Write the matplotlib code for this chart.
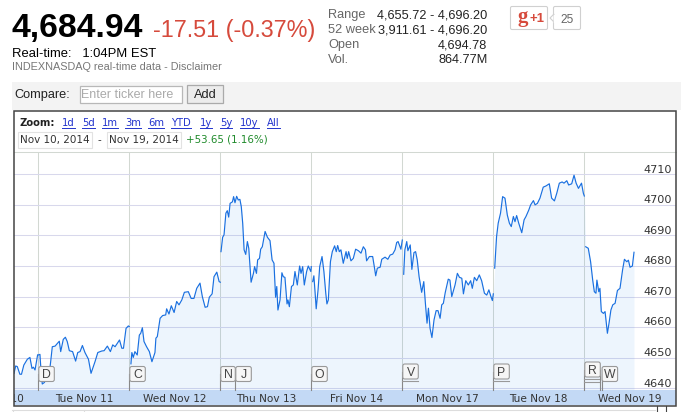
import matplotlib
matplotlib.use('Agg')
import matplotlib.pyplot as plt
from matplotlib.patches import Rectangle, FancyBboxPatch, Polygon
import numpy as np

# minutes since session open, index level
nov10_t = [286, 293, 300, 311, 318, 328, 343, 354, 363, 369, 376, 387]
nov10_v = [4644.9, 4647.3, 4647.1, 4644.6, 4644.6, 4647.6, 4649.5, 4650.1, 4646.5, 4646.9, 4646.0, 4650.9]

nov11_t = [0, 7, 11, 17, 26, 47, 53, 60, 72, 82, 90, 96, 107, 116, 124, 133, 147, 160, 169, 179, 189, 200, 215,
           226, 243, 255, 272, 282, 296, 309, 319, 329, 348, 358, 365, 376, 386, 390]
nov11_v = [4650.9, 4651.1, 4646.5, 4641.4, 4641.9, 4644.9, 4648.7, 4653.6, 4653.8, 4654.7, 4655.4, 4652.0, 4656.0,
           4656.7, 4655.3, 4652.3, 4652.0, 4648.9, 4651.7, 4652.0, 4654.0, 4651.7, 4649.5, 4644.9, 4648.7, 4651.7,
           4652.2, 4652.3, 4653.8, 4652.0, 4654.2, 4653.6, 4655.8, 4653.1, 4653.1, 4659.6, 4660.4, 4660.2]

nov12_t = [7, 11, 17, 24, 34, 43, 49, 56, 63, 74, 86, 97, 110, 114, 120, 132, 143, 156, 160, 170, 180, 192, 203,
           213, 225, 236, 253, 265, 277, 289, 303, 313, 325, 335, 343, 355, 363, 375, 385, 390]
nov12_v = [4648.0, 4651.7, 4650.1, 4652.0, 4650.9, 4657.4, 4658.0, 4659.8, 4655.3, 4653.6, 4652.0, 4648.7, 4651.7,
           4656.4, 4656.9, 4662.9, 4663.8, 4664.0, 4666.0, 4664.3, 4667.0, 4664.8, 4668.4, 4667.3, 4668.9, 4671.4,
           4671.6, 4669.4, 4669.4, 4672.7, 4674.4, 4670.0, 4666.5, 4666.7, 4669.8, 4670.9, 4676.5, 4678.0, 4674.9,
           4674.7]

nov13_t = [3, 10, 16, 24, 30, 36, 42, 52, 57, 63, 70, 77, 84, 90, 96, 102, 109, 116, 122, 132, 142, 147, 155, 160,
           168, 173, 180, 192, 202, 213, 222, 230, 237, 242, 247, 256, 264, 270, 277, 286, 290, 296, 305, 313, 320,
           330, 340, 346, 353, 360, 370, 377, 388, 390]
nov13_v = [4684.7, 4689.4, 4690.2, 4697.3, 4698.1, 4696.0, 4700.5, 4701.0, 4702.7, 4700.7, 4702.8, 4701.6, 4701.8,
           4699.4, 4694.0, 4685.3, 4683.8, 4688.0, 4685.8, 4674.7, 4677.6, 4679.8, 4677.6, 4682.0, 4682.5, 4685.5,
           4686.3, 4691.3, 4689.4, 4688.3, 4682.0, 4680.9, 4669.8, 4673.3, 4665.6, 4668.9, 4677.8, 4676.5, 4676.3,
           4667.6, 4668.9, 4666.7, 4673.3, 4673.8, 4678.2, 4673.8, 4680.0, 4677.6, 4679.8, 4673.8, 4678.2, 4680.0,
           4678.2, 4679.8]

nov14_t = [6, 11, 16, 21, 29, 36, 46, 54, 62, 67, 73, 82, 90, 100, 107, 113, 120, 127, 137, 149, 154, 160, 170,
           180, 190, 202, 213, 223, 232, 237, 249, 263, 270, 276, 283, 295, 302, 316, 328, 338, 349, 359, 366, 372,
           384, 390]
nov14_v = [4674.9, 4676.8, 4671.6, 4666.0, 4672.2, 4679.8, 4683.1, 4678.2, 4671.1, 4667.6, 4668.9, 4681.4, 4684.7,
           4686.6, 4684.7, 4686.7, 4684.7, 4685.3, 4680.9, 4684.7, 4682.5, 4684.7, 4681.7, 4682.5, 4685.5, 4685.0,
           4684.2, 4686.3, 4685.3, 4681.7, 4683.1, 4683.1, 4679.8, 4676.8, 4679.3, 4679.6, 4682.2, 4682.9, 4682.2,
           4683.6, 4683.9, 4685.3, 4687.7, 4688.0, 4685.5, 4688.5]

nov17_t = [6, 11, 19, 24, 34, 41, 50, 57, 64, 72, 83, 92, 99, 106, 112, 119, 127, 136, 145, 153, 162, 169, 176,
           184, 197, 204, 212, 226, 236, 245, 255, 262, 272, 283, 293, 300, 309, 319, 330, 340, 352, 362, 371, 379,
           386, 390]
nov17_v = [4677.3, 4685.3, 4688.0, 4685.0, 4686.9, 4678.9, 4684.4, 4684.7, 4682.0, 4676.5, 4671.4, 4674.9, 4667.8,
           4661.3, 4666.2, 4659.6, 4656.6, 4662.4, 4665.4, 4665.4, 4662.9, 4667.3, 4667.8, 4671.3, 4675.7, 4675.4,
           4670.0, 4673.8, 4677.6, 4676.3, 4676.0, 4670.9, 4675.2, 4673.8, 4675.2, 4672.7, 4676.3, 4675.2, 4677.1,
           4675.2, 4671.1, 4670.5, 4672.2, 4670.2, 4668.7, 4670.9]

nov18_t = [6, 14, 21, 31, 40, 50, 60, 69, 77, 86, 93, 100, 109, 122, 132, 140, 152, 160, 172, 179, 189, 200, 214,
           226, 240, 250, 262, 272, 283, 295, 303, 315, 323, 336, 346, 355, 365, 378, 386, 390]
nov18_v = [4679.3, 4689.6, 4694.0, 4697.3, 4702.7, 4702.2, 4696.7, 4694.0, 4692.9, 4696.2, 4694.5, 4696.5, 4694.0,
           4690.9, 4695.1, 4696.2, 4698.3, 4700.0, 4701.4, 4700.0, 4700.5, 4702.2, 4705.8, 4706.2, 4706.9, 4702.2,
           4701.3, 4703.8, 4707.1, 4707.5, 4707.1, 4707.9, 4706.5, 4706.9, 4709.7, 4707.1, 4705.4, 4707.1, 4703.8,
           4702.9]

nov19_t = [6, 17, 27, 36, 43, 50, 54, 62, 67, 73, 82, 89, 99, 106, 114, 122, 132, 142, 153, 164, 172, 182, 189,
           196, 206, 213]
nov19_v = [4686.3, 4685.8, 4681.4, 4675.4, 4671.6, 4671.1, 4675.4, 4671.6, 4672.7, 4665.1, 4664.5, 4665.1, 4658.0,
           4661.3, 4665.6, 4667.3, 4667.8, 4672.0, 4672.7, 4678.7, 4682.2, 4681.4, 4681.9, 4679.6, 4680.0, 4684.5]

# session index relative to Nov 11
sessions = [(-1, nov10_t, nov10_v), (0, nov11_t, nov11_v), (1, nov12_t, nov12_v), (2, nov13_t, nov13_v),
            (3, nov14_t, nov14_v), (4, nov17_t, nov17_v), (5, nov18_t, nov18_v), (6, nov19_t, nov19_v)]

y_ticks = [4640, 4650, 4660, 4670, 4680, 4690, 4700, 4710]
day_labels = ['Mon Nov 10', 'Tue Nov 11', 'Wed Nov 12', 'Thu Nov 13', 'Fri Nov 14', 'Mon Nov 17', 'Tue Nov 18',
              'Wed Nov 19']
day_ticks = [0, 1, 2, 3, 4, 5, 6]

flag_letters = ['D', 'C', 'N', 'J', 'O', 'V', 'P', 'R', 'W']
flag_days = [0, 1, 2, 2.165, 3, 4, 5, 6, 6.19]
flag_stack = [0, 0, 0, 0, 0, 1, 1, 2, 0]

stat_names = ['Range', '52 week', 'Open', 'Vol.']
stat_values = ['4,655.72 - 4,696.20', '3,911.61 - 4,696.20', '4,694.78', '864.77M']

zoom_links = ['1d', '5d', '1m', '3m', '6m', 'YTD', '1y', '5y', '10y', 'All']
zoom_starts = [62, 82, 102, 125, 148, 171, 200, 220, 240, 267]

W, H = 681, 412
DAY_PX = 91.0
X0 = 38.3
PLOT_L, PLOT_R, PLOT_T, PLOT_B = 14, 676, 152, 390

fig = plt.figure(figsize=(W / 100, H / 100), dpi=100, facecolor='white')

# price chart
ax = fig.add_axes([PLOT_L / W, 1 - PLOT_B / H, (PLOT_R - PLOT_L) / W, (PLOT_B - PLOT_T) / H])
ax.set_xlim((PLOT_L - X0) / DAY_PX, (PLOT_R - X0) / DAY_PX)
ax.set_ylim(4640 - (PLOT_B - 388.3) / 3.057, 4640 + (388.3 - PLOT_T) / 3.057)
ax.set_xticks(day_ticks)
ax.set_yticks(y_ticks)
ax.tick_params(length=0, labelbottom=False, labelleft=False)
ax.grid(axis='y', color='#d8d8ec', lw=0.75)
ax.grid(axis='x', color='#d2d8d2', lw=0.75)
ax.set_axisbelow(True)
for s in ax.spines.values():
    s.set_visible(False)

all_x, all_y = [], []
for day, t, v in sessions:
    x = day + np.array(t) / 390.0
    ax.plot(x, v, color='#1a70e0', lw=0.85, solid_joinstyle='round')
    all_x.append(x)
    all_y.append(v)
ax.fill_between(np.concatenate(all_x), np.concatenate(all_y), ax.get_ylim()[0], color='#1a80f0', alpha=0.075, lw=0)

for v in y_ticks:
    ax.annotate(str(v), (1, v), xycoords=ax.get_yaxis_transform(), xytext=(-2.9, 3.4), textcoords='offset points',
                ha='right', va='center', fontsize=8.1, color='#333333')

# everything around the chart, in pixel coordinates
bg = fig.add_axes([0, 0, 1, 1], zorder=3)
bg.set_xlim(0, W)
bg.set_ylim(H, 0)
bg.axis('off')


def label(x, y, s, size=9.2, color='black', family='Liberation Sans', **kw):
    kw.setdefault('va', 'baseline')
    return bg.text(x, y, s, fontsize=size, color=color, family=family, **kw)


label(12, 37, '4,684.94', size=24.3, weight='bold')
label(153, 37, '-17.51 (-0.37%)', size=16.8, color='#d64a3c')
label(12, 57, 'Real-time:   1:04PM EST', size=9.4)
label(12, 70, 'INDEXNASDAQ real-time data - Disclaimer', size=7.8, color='#777777')

for i, name in enumerate(stat_names):
    label(328, 18 + 15 * i, name, color='#666666')
    label(487.5, 18 + 15 * i, stat_values[i], color='#222222', ha='right')

# +1 button and its count
bg.add_patch(FancyBboxPatch((510.5, 6.5), 37, 23, boxstyle='round,pad=0,rounding_size=1.5', fc='white',
                            ec='#d0d0d0', lw=0.8))
label(517, 22, 'g', size=15, color='#d64a3c', family='Liberation Serif', weight='bold')
label(529, 22, '+1', size=9.5, color='#d64a3c', weight='bold')
bg.add_patch(FancyBboxPatch((553.5, 6.5), 27, 23, boxstyle='round,pad=0,rounding_size=1.5', fc='white',
                            ec='#d0d0d0', lw=0.8))
bg.add_patch(Polygon([(554, 14), (550, 18), (554, 22)], fc='white', ec='#d0d0d0', lw=0.8))
bg.plot([554, 554], [14.5, 21.5], color='white', lw=1)
label(567, 22.5, '25', size=8.6, color='#666666', ha='center')

# compare bar
bg.add_patch(Rectangle((12, 82), W - 12, 28, fc='#f3f3f3', ec='none'))
label(14, 98, 'Compare:', size=9.2, color='#222222')
bg.add_patch(Rectangle((79.5, 85.5), 102, 17, fc='white', ec='#b8b8b8', lw=0.9))
label(81, 98, 'Enter ticker here', size=9.0, color='#aaaaaa')
bg.add_patch(Rectangle((187, 85), 36, 18, fc='#ececec', ec='#aaaaaa', lw=0.9))
label(205, 98, 'Add', size=9.2, color='#222222', ha='center')

# chart frame
bg.add_patch(Rectangle((13.5, 110.5), 662.5, 295, fc='none', ec='#444444', lw=1.1, zorder=6))
bg.add_patch(Rectangle((14, 390), 662, 15, fc='#c3d9f5', ec='none'))
bg.plot([14, 676], [151.5, 151.5], color='#d2d8d2', lw=0.75)

# zoom row
DV = 'DejaVu Sans'
label(19.5, 126, 'Zoom:', size=7.2, weight='bold', family=DV, color='#222222')
for s, x in zip(zoom_links, zoom_starts):
    t = label(x, 126, s, size=7.2, color='#2233cc', family=DV)
    bb = t.get_window_extent(fig.canvas.get_renderer())
    bg.plot([x, x + bb.width], [128, 128], color='#2233cc', lw=0.7)

bg.add_patch(Rectangle((17.5, 131.5), 74, 16, fc='white', ec='#e2e2e2', lw=0.8))
label(20, 143, 'Nov 10, 2014', size=7.5, family=DV, color='#333333')
label(99, 143, '-', size=7.5, family=DV, ha='center', color='#333333')
bg.add_patch(Rectangle((106.5, 131.5), 74, 16, fc='white', ec='#e2e2e2', lw=0.8))
label(109, 143, 'Nov 19, 2014', size=7.5, family=DV, color='#333333')
label(186, 143, '+53.65 (1.16%)', size=7.4, family=DV, color='#1e8a2a')

# day labels, the first one is cut off by the frame
band = Rectangle((14, 390), 662, 15, transform=bg.transData)
for i, s in enumerate(day_labels):
    t = label(X0 + (i - 0.5) * DAY_PX, 402, s, size=7.6, family=DV, color='#333333', ha='center', clip_on=True)
    t.set_clip_path(band)

# event flags
for s, day, stack in zip(flag_letters, flag_days, flag_stack):
    x = X0 + day * DAY_PX
    top = {0: 366, 1: 363.5, 2: 361.5}[stack]
    bg.plot([x, x], [top + 8, 390], color='#888888', lw=0.8, zorder=4)
    for k in range(stack):
        bg.plot([x, x + 16], [top + 17 + 3 * k, top + 17 + 3 * k], color='#999999', lw=0.8, zorder=4)
    if stack == 2:
        bg.plot([x + 16, x + 16], [top + 8, 390], color='#888888', lw=0.8, zorder=4)
    w = 14.5 if s == 'N' else 15.5
    bg.add_patch(FancyBboxPatch((x + 0.5, top + 0.5), w, 15, boxstyle='round,pad=0,rounding_size=2',
                                fc='#f6f6f6', ec='#999999', lw=0.8, zorder=5))
    label(x + 0.5 + w / 2, top + 12.5, s, size=8.8, color='#444444', ha='center', zorder=6)

# box below the frame
bg.plot([12, 655], [409.5, 409.5], color='#dddddd', lw=0.8)
bg.plot([12.5, 12.5], [409.5, H], color='#dddddd', lw=0.8)
bg.plot([83.5, 83.5], [409.5, H], color='#dddddd', lw=0.8)
bg.plot([656.5, 656.5], [406, H], color='#444444', lw=0.8)
bg.plot([665.5, 665.5], [406, H], color='#444444', lw=0.8)

fig.savefig('out.png', dpi=100)
